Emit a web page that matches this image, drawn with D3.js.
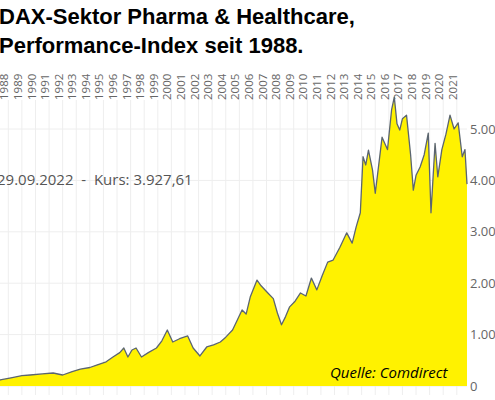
<!DOCTYPE html>
<html><head><meta charset="utf-8">
<script src="https://cdn.jsdelivr.net/npm/d3@7"></script>
<style>body{margin:0;background:#fff}svg{display:block}</style>
</head><body>
<script>
const years = [1988.0,1988.4,1989.2,1990.0,1990.6,1991.5,1992.3,1993.0,1993.7,1994.3,1995.0,1995.5,1996.2,1996.7,1997.2,1997.5,1997.8,1998.1,1998.4,1998.8,1999.3,1999.9,2000.3,2000.7,2001.1,2001.6,2002.2,2002.6,2003.1,2003.6,2004.1,2004.6,2005.0,2005.5,2006.2,2006.5,2006.8,2007.3,2007.6,2008.1,2008.5,2008.8,2009.1,2009.4,2009.7,2010.1,2010.5,2010.9,2011.3,2011.7,2012.1,2012.5,2012.9,2013.4,2013.9,2014.3,2014.6,2014.9,2015.1,2015.3,2015.5,2015.8,2016.0,2016.3,2016.5,2016.9,2017.2,2017.4,2017.6,2017.8,2018.0,2018.3,2018.6,2018.8,2019.0,2019.3,2019.6,2019.9,2020.1,2020.4,2020.6,2020.9,2021.2,2021.5,2021.8,2022.1,2022.4,2022.6,2022.75];
const values = [110,117,160,200,214,235,253,214,280,330,360,408,470,564,650,739,564,700,739,564,650,739,880,1090,856,920,973,739,584,759,800,856,950,1090,1480,1400,1730,2060,1950,1810,1700,1420,1190,1350,1540,1650,1810,1750,2100,1870,2150,2410,2450,2700,2980,2780,3100,3370,4460,4300,4590,4200,3750,4400,4840,4600,5370,5620,5100,4980,5200,5270,4500,3810,4100,4260,4500,4920,3370,4720,4070,4600,4900,5270,5000,5120,4460,4600,3928];
const yTicks = [0,1000,2000,3000,4000,5000];
const yTickLabels = ["0","1.000","2.000","3.000","4.000","5.000"];
const yearLabels = d3.range(1988,2022);
const title1 = "DAX-Sektor Pharma & Healthcare,";
const title2 = "Performance-Index seit 1988.";
const note = "29.09.2022  -  Kurs: 3.927,61";
const source = "Quelle: Comdirect";

const W=495,H=400;
const svg=d3.select("body").append("svg").attr("width",W).attr("height",H);
const x=d3.scaleLinear().domain([1988,2022.75]).range([-5.3,467]);
const y=d3.scaleLinear().domain([0,5000]).range([386,129]);
const font="'Open Sans', sans-serif";

const g=svg.append("g");
g.selectAll(".vg").data(d3.range(1989,2023)).join("line")
 .attr("x1",d=>x(d)).attr("x2",d=>x(d)).attr("y1",100).attr("y2",395)
 .attr("stroke","#eeeeee").attr("stroke-width",1);
g.selectAll(".hg").data(yTicks).join("line")
 .attr("x1",0).attr("x2",467).attr("y1",d=>y(d)).attr("y2",d=>y(d))
 .attr("stroke","#eeeeee").attr("stroke-width",1);

const pts=years.map((t,i)=>[t,values[i]]);
const area=d3.area().x(d=>x(d[0])).y0(y(0)).y1(d=>y(d[1]));
const line=d3.line().x(d=>x(d[0])).y(d=>y(d[1]));
svg.append("path").datum(pts).attr("d",area).attr("fill","#fff200");
svg.append("path").datum(pts).attr("d",line).attr("fill","none").attr("stroke","#5b6570").attr("stroke-width",1.3).attr("stroke-linejoin","round");

svg.selectAll(".yl").data(yearLabels).join("text")
 .attr("transform",d=>`translate(${x(d+1)-4},100) rotate(-90)`)
 .attr("dy","0.35em").attr("text-anchor","start")
 .attr("font-family",font).attr("font-size",11.5).attr("fill","#666")
 .text(d=>d);

svg.selectAll(".ytl").data(yTicks).join("text")
 .attr("x",470).attr("y",d=>y(d)).attr("dy","0.35em")
 .attr("font-family",font).attr("font-size",13).attr("fill","#666")
 .text((d,i)=>yTickLabels[i]);

svg.append("text").attr("x",-1).attr("y",24).attr("font-family","'Liberation Sans', Arial, sans-serif").attr("font-weight","bold").attr("font-size",22).attr("fill","#000").text(title1);
svg.append("text").attr("x",-1).attr("y",53).attr("font-family","'Liberation Sans', Arial, sans-serif").attr("font-weight","bold").attr("font-size",22).attr("fill","#000").text(title2);
svg.append("text").attr("x",-3).attr("y",185).attr("font-family",font).attr("font-size",15).attr("fill","#555").attr("xml:space","preserve").text(note);
svg.append("text").attr("x",330).attr("y",378).attr("font-family",font).attr("font-style","italic").attr("font-size",15).attr("fill","#000").text(source);
</script>
</body></html>
